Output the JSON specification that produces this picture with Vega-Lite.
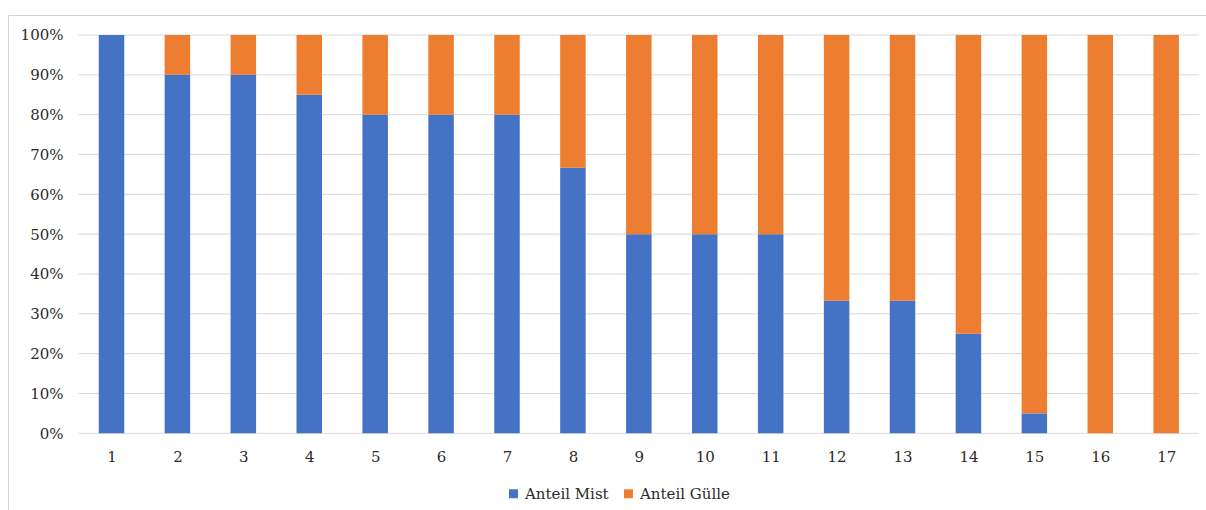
{
  "$schema": "https://vega.github.io/schema/vega-lite/v6.json",
  "width": 1198,
  "height": 495,
  "autosize": {"type": "none"},
  "padding": {"left": 8, "top": 15, "right": 0, "bottom": 0},
  "background": "white",
  "config": {
    "view": {"stroke": "#d4d4d4", "strokeWidth": 1},
    "font": "DejaVu Serif",
    "axis": {"labelFont": "DejaVu Serif", "labelColor": "#2b2b2b", "labelFontSize": 15},
    "legend": {"labelFont": "DejaVu Serif"}
  },
  "datasets": {
    "anteile": [
      {"betrieb": 1, "art": "Anteil Mist", "anteil": 1.0},
      {"betrieb": 1, "art": "Anteil Gülle", "anteil": 0.0},
      {"betrieb": 2, "art": "Anteil Mist", "anteil": 0.9},
      {"betrieb": 2, "art": "Anteil Gülle", "anteil": 0.1},
      {"betrieb": 3, "art": "Anteil Mist", "anteil": 0.9},
      {"betrieb": 3, "art": "Anteil Gülle", "anteil": 0.1},
      {"betrieb": 4, "art": "Anteil Mist", "anteil": 0.85},
      {"betrieb": 4, "art": "Anteil Gülle", "anteil": 0.15},
      {"betrieb": 5, "art": "Anteil Mist", "anteil": 0.8},
      {"betrieb": 5, "art": "Anteil Gülle", "anteil": 0.2},
      {"betrieb": 6, "art": "Anteil Mist", "anteil": 0.8},
      {"betrieb": 6, "art": "Anteil Gülle", "anteil": 0.2},
      {"betrieb": 7, "art": "Anteil Mist", "anteil": 0.8},
      {"betrieb": 7, "art": "Anteil Gülle", "anteil": 0.2},
      {"betrieb": 8, "art": "Anteil Mist", "anteil": 0.667},
      {"betrieb": 8, "art": "Anteil Gülle", "anteil": 0.333},
      {"betrieb": 9, "art": "Anteil Mist", "anteil": 0.5},
      {"betrieb": 9, "art": "Anteil Gülle", "anteil": 0.5},
      {"betrieb": 10, "art": "Anteil Mist", "anteil": 0.5},
      {"betrieb": 10, "art": "Anteil Gülle", "anteil": 0.5},
      {"betrieb": 11, "art": "Anteil Mist", "anteil": 0.5},
      {"betrieb": 11, "art": "Anteil Gülle", "anteil": 0.5},
      {"betrieb": 12, "art": "Anteil Mist", "anteil": 0.333},
      {"betrieb": 12, "art": "Anteil Gülle", "anteil": 0.667},
      {"betrieb": 13, "art": "Anteil Mist", "anteil": 0.333},
      {"betrieb": 13, "art": "Anteil Gülle", "anteil": 0.667},
      {"betrieb": 14, "art": "Anteil Mist", "anteil": 0.25},
      {"betrieb": 14, "art": "Anteil Gülle", "anteil": 0.75},
      {"betrieb": 15, "art": "Anteil Mist", "anteil": 0.05},
      {"betrieb": 15, "art": "Anteil Gülle", "anteil": 0.95},
      {"betrieb": 16, "art": "Anteil Mist", "anteil": 0.0},
      {"betrieb": 16, "art": "Anteil Gülle", "anteil": 1.0},
      {"betrieb": 17, "art": "Anteil Mist", "anteil": 0.0},
      {"betrieb": 17, "art": "Anteil Gülle", "anteil": 1.0}
    ],
    "gitter": [
      {"wert": 0.0}, {"wert": 0.1}, {"wert": 0.2}, {"wert": 0.3},
      {"wert": 0.4}, {"wert": 0.5}, {"wert": 0.6}, {"wert": 0.7},
      {"wert": 0.8}, {"wert": 0.9}, {"wert": 1.0}
    ]
  },
  "layer": [
    {
      "data": {"name": "gitter"},
      "mark": {"type": "rule", "color": "#d9d9d9", "strokeWidth": 1},
      "encoding": {
        "x": {"datum": 0.5, "type": "quantitative", "scale": {"domain": [-0.57, 17.604], "nice": false, "zero": false, "padding": 0}},
        "x2": {"datum": 17.5},
        "y": {"field": "wert", "type": "quantitative", "scale": {"domain": [-0.1926, 1.0502], "nice": false, "zero": false, "padding": 0}}
      }
    },
    {
      "data": {"name": "anteile"},
      "mark": {"type": "bar", "width": 25.5},
      "encoding": {
        "x": {
          "field": "betrieb",
          "type": "quantitative",
          "axis": {
            "orient": "bottom",
            "offset": -76,
            "values": [1, 2, 3, 4, 5, 6, 7, 8, 9, 10, 11, 12, 13, 14, 15, 16, 17],
            "format": "d",
            "title": null,
            "domain": false,
            "ticks": false,
            "tickSize": 0,
            "grid": false,
            "labelPadding": 15,
            "labelFlush": false,
            "labelOverlap": false
          }
        },
        "y": {
          "field": "anteil",
          "type": "quantitative",
          "stack": "zero",
          "axis": {
            "orient": "left",
            "offset": -59,
            "values": [0, 0.1, 0.2, 0.3, 0.4, 0.5, 0.6, 0.7, 0.8, 0.9, 1.0],
            "format": ".0%",
            "title": null,
            "domain": false,
            "ticks": false,
            "tickSize": 0,
            "grid": false,
            "labelPadding": 4,
            "labelFlush": false,
            "labelOverlap": false
          }
        },
        "color": {
          "field": "art",
          "type": "nominal",
          "sort": ["Anteil Mist", "Anteil Gülle"],
          "scale": {"domain": ["Anteil Mist", "Anteil Gülle"], "range": ["#4472C4", "#ED7D31"]},
          "legend": {
            "orient": "none",
            "legendX": 498,
            "legendY": 471,
            "direction": "horizontal",
            "title": null,
            "symbolType": "square",
            "symbolSize": 80,
            "symbolStrokeWidth": 0,
            "labelFont": "DejaVu Serif",
            "labelFontSize": 15,
            "labelColor": "#2b2b2b",
            "labelOffset": 4,
            "columnPadding": 12,
            "padding": 0
          }
        },
        "order": {"field": "art", "sort": "descending"}
      }
    }
  ]
}
